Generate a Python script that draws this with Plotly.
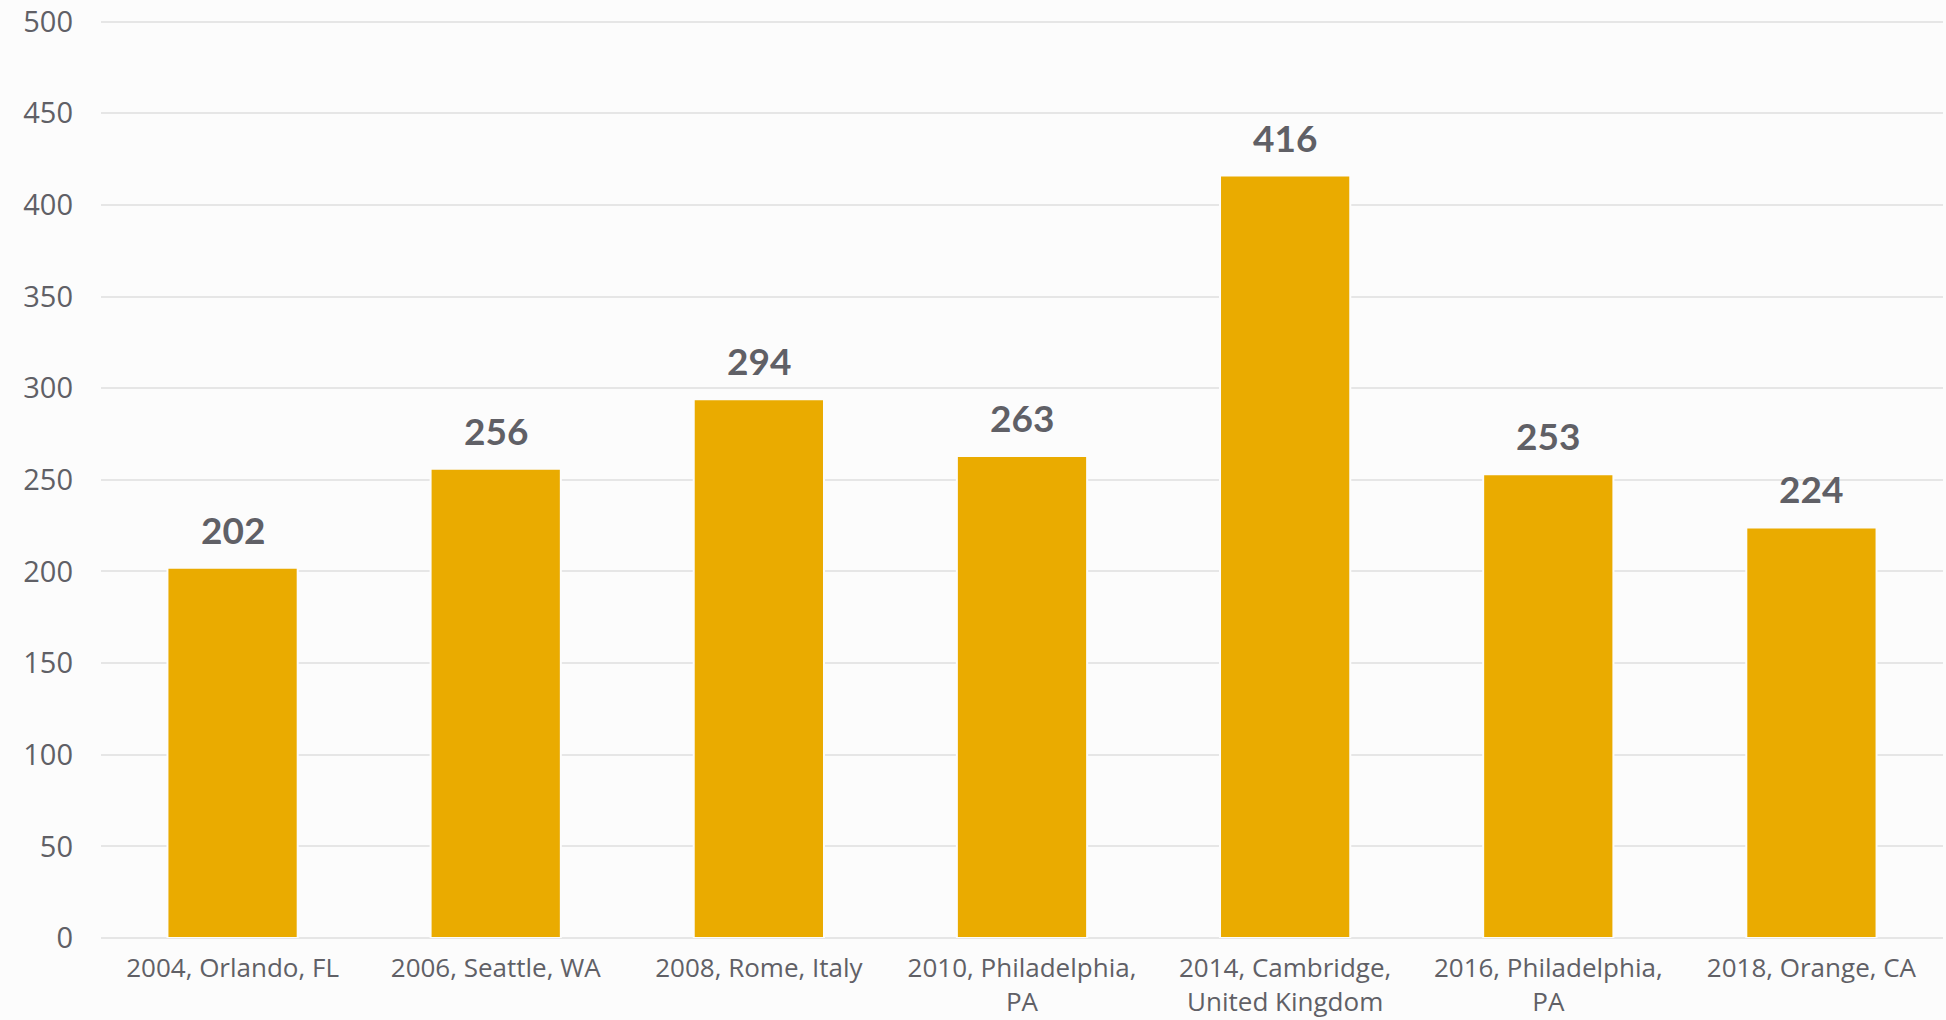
import plotly.graph_objects as go

categories = ["2004, Orlando, FL", "2006, Seattle, WA", "2008, Rome, Italy",
              "2010, Philadelphia,<br>PA", "2014, Cambridge,<br>United Kingdom",
              "2016, Philadelphia,<br>PA", "2018, Orange, CA"]
values = [202, 256, 294, 263, 416, 253, 224]
y_ticks = [0, 50, 100, 150, 200, 250, 300, 350, 400, 450, 500]

BG = "#fcfcfc"
BAR = "#eaab00"
TXT = "#606066"

fig = go.Figure()
fig.add_trace(go.Bar(
    x=categories, y=values,
    marker=dict(color=BAR, line=dict(color=BG, width=2)),
    hoverinfo="skip",
))
for c, v in zip(categories, values):
    fig.add_annotation(x=c, y=v, text=str(v), showarrow=False,
                       yanchor="bottom", yshift=14,
                       font=dict(family="Lato", size=37, color=TXT, weight="bold"))

fig.update_layout(
    width=1946, height=1020,
    paper_bgcolor=BG, plot_bgcolor=BG,
    margin=dict(l=101, r=3, t=18, b=82),
    bargap=0.505,
    showlegend=False,
    font=dict(family="Open Sans", size=26, color=TXT),
)
fig.update_yaxes(range=[0, 502], tickvals=y_ticks, showgrid=True,
                 gridcolor="#e6e6e6", gridwidth=2, zeroline=True,
                 zerolinecolor="#e6e6e6", zerolinewidth=2,
                 ticks="", ticklabelstandoff=27, showline=False,
                 tickfont=dict(size=29), automargin=False)
fig.update_xaxes(showgrid=False, ticks="", ticklabelstandoff=12, showline=False,
                 automargin=False, tickfont=dict(size=26))

fig.write_html("out.html", config={"displayModeBar": False},
               post_script="document.body.style.margin='0';document.body.style.overflow='hidden';document.body.style.background='#fcfcfc';")
